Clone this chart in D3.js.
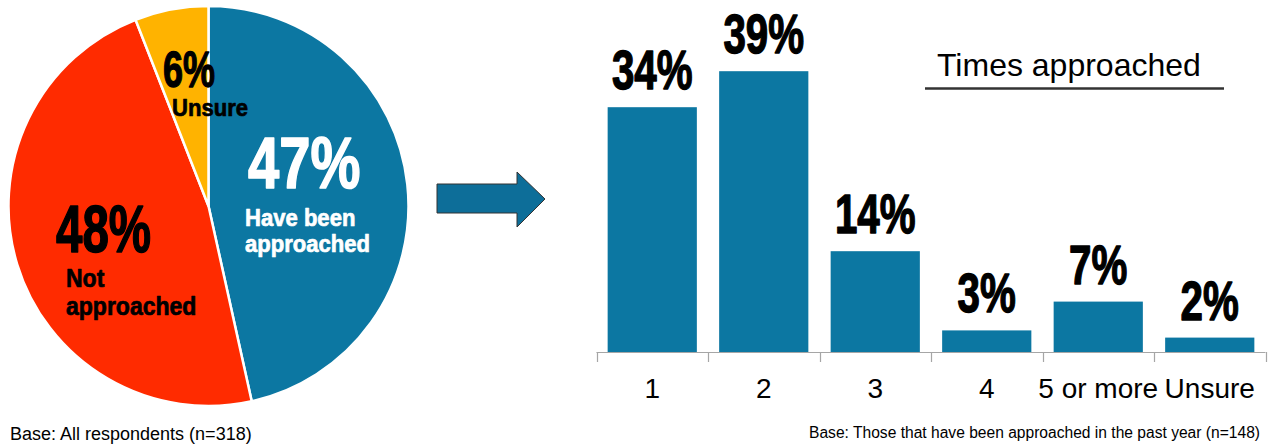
<!DOCTYPE html>
<html>
<head>
<meta charset="utf-8">
<script src="https://cdn.jsdelivr.net/npm/d3@7"></script>
<style>
  html, body { margin: 0; padding: 0; background: #ffffff; }
  svg { display: block; }
  text { font-family: "Liberation Sans", Arial, sans-serif; }
</style>
</head>
<body>
<svg id="chart" width="1277" height="444"></svg>
<script>
// Pie: share of respondents approached
const pieCategories = ["Have been approached", "Not approached", "Unsure"];
const pieValues = [47, 48, 6];
const pieColors = ["#0C77A2", "#FF2B00", "#FFB300"];

// Bars: number of times approached
const barCategories = ["1", "2", "3", "4", "5 or more", "Unsure"];
const barValues = [34, 39, 14, 3, 7, 2];

const barTitle = "Times approached";
const pieBase = "Base: All respondents (n=318)";
const barBase = "Base: Those that have been approached in the past year (n=148)";

const svg = d3.select("#chart");

// soft shadow under the title rule
const defs = svg.append("defs");
defs.append("filter").attr("id", "soft")
  .attr("x", "-5%").attr("y", "-200%").attr("width", "110%").attr("height", "500%")
  .append("feGaussianBlur").attr("stdDeviation", 2);

// ---------- pie ----------
const cx = 208.5, cy = 206, radius = 200;
const pie = d3.pie().sort(null).value(d => d)(pieValues);
const arc = d3.arc().innerRadius(0).outerRadius(radius);

const pieG = svg.append("g").attr("transform", `translate(${cx},${cy})`);
pieG.selectAll("path.slice")
  .data(pie)
  .join("path")
  .attr("class", "slice")
  .attr("d", arc)
  .attr("fill", (d, i) => pieColors[i])
  .attr("stroke", "#ffffff")
  .attr("stroke-width", 2.5)
  .attr("stroke-linejoin", "round");

// condensed heavy label helper
function label(g, txt, x, y, size, fill, sx, weightStroke) {
  return g.append("text")
    .attr("transform", `translate(${x},${y}) scale(${sx},1)`)
    .attr("font-size", size)
    .attr("font-weight", "bold")
    .attr("fill", fill)
    .attr("stroke", fill)
    .attr("stroke-width", weightStroke)
    .attr("stroke-linejoin", "round")
    .text(txt);
}

const pct = v => `${v}%`;
const bigSx = 0.72, smallSx = 0.92;

// Have been approached
label(svg, pct(pieValues[0]), 248, 188, 72, "#ffffff", 0.78, 1.6);
label(svg, "Have been", 245, 226, 24, "#ffffff", smallSx, 0.7);
label(svg, "approached", 245, 252, 24, "#ffffff", smallSx, 0.7);
// Not approached
label(svg, pct(pieValues[1]), 56, 252, 66, "#000000", bigSx, 1.5);
label(svg, "Not", 66, 287, 25, "#000000", smallSx, 0.7);
label(svg, "approached", 66, 315, 25, "#000000", smallSx, 0.7);
// Unsure
label(svg, pct(pieValues[2]), 163, 87, 50, "#000000", bigSx, 1.3);
label(svg, "Unsure", 172, 116, 24, "#000000", smallSx, 0.7);

// ---------- arrow ----------
const arrowPts = [[437, 184], [517, 184], [517, 172], [545, 199], [517, 227], [517, 213], [437, 213]];
svg.append("path")
  .attr("d", d3.line()(arrowPts) + "Z")
  .attr("fill", "#0D6E99")
  .attr("stroke", "#333333")
  .attr("stroke-width", 1);

// ---------- bars ----------
const x = d3.scaleBand()
  .domain(barCategories)
  .range([596.5, 1265.5])
  .paddingInner(0.2)
  .paddingOuter(0.1);
const xEdges = d3.scaleBand().domain(barCategories).range([596.5, 1265.5]).padding(0);
const y = d3.scaleLinear().domain([0, 40]).range([352, 64]);

const barG = svg.append("g");
barG.selectAll("rect")
  .data(barValues)
  .join("rect")
  .attr("x", (d, i) => x(barCategories[i]))
  .attr("width", x.bandwidth())
  .attr("y", d => y(d))
  .attr("height", d => y(0) - y(d))
  .attr("fill", "#0C77A2");

// axis line and category dividers
const axisG = svg.append("g");
axisG.append("line")
  .attr("x1", xEdges.range()[0]).attr("x2", xEdges.range()[1])
  .attr("y1", y(0) + 0.5).attr("y2", y(0) + 0.5)
  .attr("stroke", "#A6A6A6").attr("stroke-width", 1.2);
const edges = barCategories.map(c => xEdges(c)).concat([xEdges.range()[1]]);
axisG.selectAll("line.tick")
  .data(edges)
  .join("line")
  .attr("class", "tick")
  .attr("x1", d => Math.round(d) + 0.5).attr("x2", d => Math.round(d) + 0.5)
  .attr("y1", y(0)).attr("y2", y(0) + 10)
  .attr("stroke", "#A6A6A6").attr("stroke-width", 1.2);

axisG.selectAll("text.cat")
  .data(barCategories)
  .join("text")
  .attr("class", "cat")
  .attr("x", d => x(d) + x.bandwidth() / 2)
  .attr("y", 398)
  .attr("text-anchor", "middle")
  .attr("font-size", 28)
  .attr("fill", "#000000")
  .text(d => d);

// value labels
barValues.forEach((v, i) => {
  const cxBar = x(barCategories[i]) + x.bandwidth() / 2;
  svg.append("text")
    .attr("transform", `translate(${cxBar},${y(v) - 18}) scale(${bigSx},1)`)
    .attr("text-anchor", "middle")
    .attr("font-size", 56)
    .attr("font-weight", "bold")
    .attr("fill", "#000000")
    .attr("stroke", "#000000")
    .attr("stroke-width", 1.4)
    .attr("stroke-linejoin", "round")
    .text(pct(v));
});

// title with rule
svg.append("text")
  .attr("x", 937).attr("y", 76)
  .attr("font-size", 32)
  .attr("fill", "#000000")
  .text(barTitle);
svg.append("line")
  .attr("x1", 925).attr("x2", 1224).attr("y1", 93).attr("y2", 93)
  .attr("stroke", "#9a9a9a").attr("stroke-width", 3)
  .attr("filter", "url(#soft)");
svg.append("line")
  .attr("x1", 925).attr("x2", 1224).attr("y1", 88.5).attr("y2", 88.5)
  .attr("stroke", "#333333").attr("stroke-width", 2.5);

// base notes
svg.append("text")
  .attr("x", 10).attr("y", 440)
  .attr("font-size", 18)
  .attr("fill", "#000000")
  .text(pieBase);
svg.append("text")
  .attr("x", 1260).attr("y", 438)
  .attr("text-anchor", "end")
  .attr("font-size", 15.6)
  .attr("fill", "#000000")
  .text(barBase);
</script>
</body>
</html>
